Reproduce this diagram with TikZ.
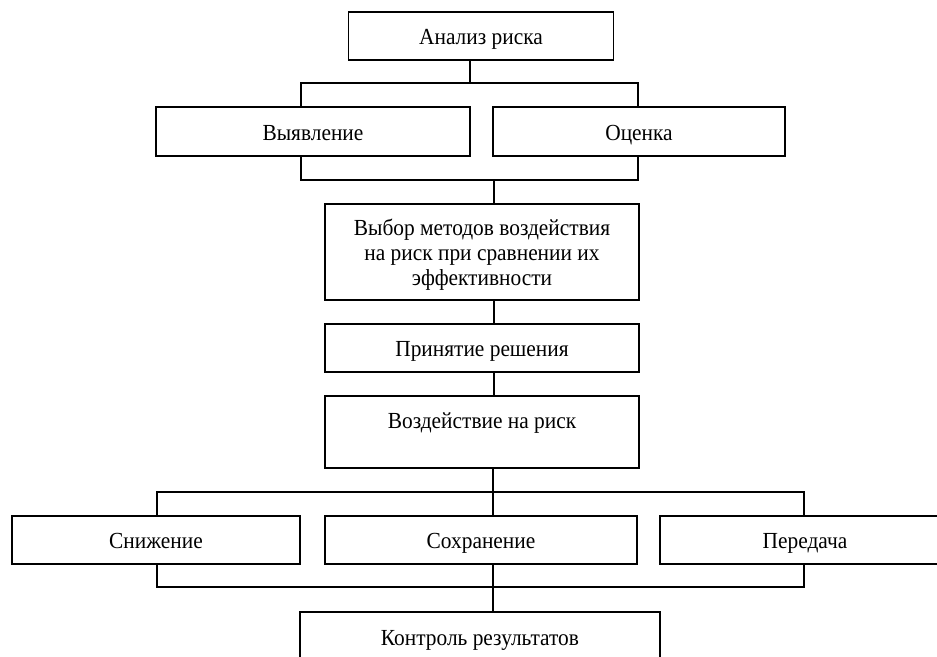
\documentclass[tikz,border=0pt]{standalone}
\usepackage{fontspec}
\setmainfont{Liberation Serif}[FakeStretch=0.93]
\begin{document}
\begin{tikzpicture}[x=1pt,y=-1pt,
  box/.style={draw,line width=1.4pt,inner sep=0pt,align=center,font=\fontsize{23}{25}\selectfont},
  one/.style={text height=21pt,text depth=4pt},
  wire/.style={line width=1.4pt}]
\useasboundingbox (0,0) rectangle (937,656);
\clip (0,0) rectangle (937,656);
\fill[white] (0,0) rectangle (937,656);
% boxes
\node[box,one,minimum width=265,minimum height=48] (anal) at (481,36) {Анализ риска};
\node[box,one,minimum width=314,minimum height=49] (vyyav) at (313,131.5) {Выявление};
\node[box,one,minimum width=292,minimum height=49] (ocenka) at (639,131.5) {Оценка};
\node[box,minimum width=314,minimum height=96] (vybor) at (482,252) {\rule{0pt}{21pt}Выбор методов воздействия\\на риск при сравнении их\\эффективности};
\node[box,one,minimum width=314,minimum height=48] (prin) at (482,348) {Принятие решения};
\node[box,text height=14pt,text depth=22pt,minimum width=314,minimum height=72] (vozd) at (482,432) {Воздействие на риск};
\node[box,one,minimum width=288,minimum height=48] (snizh) at (156,540) {Снижение};
\node[box,one,minimum width=312,minimum height=48] (sohr) at (481,540) {Сохранение};
\node[box,one,minimum width=290,minimum height=48] (pered) at (805,540) {Передача};
\node[box,text height=14pt,text depth=20pt,minimum width=360,minimum height=72] (kontrol) at (480,648) {Контроль результатов};
% junction coordinates
\coordinate (ta) at (301,83); \coordinate (tm) at (470,83); \coordinate (tb) at (638,83);
\coordinate (ba) at (301,180); \coordinate (bm) at (494,180); \coordinate (bb) at (638,180);
\coordinate (ca) at (157,492); \coordinate (cm) at (493,492); \coordinate (cb) at (804,492);
\coordinate (da) at (157,587); \coordinate (dm) at (493,587); \coordinate (db) at (804,587);
% connectors
\draw[wire] (anal.south -| tm) -- (tm);
\draw[wire] (vyyav.north -| ta) -- (ta) -- (tb) -- (ocenka.north -| tb);
\draw[wire] (vyyav.south -| ba) -- (ba) -- (bb) -- (ocenka.south -| bb);
\draw[wire] (bm) -- (vybor.north -| bm);
\draw[wire] (vybor.south -| bm) -- (prin.north -| bm);
\draw[wire] (prin.south -| bm) -- (vozd.north -| bm);
\draw[wire] (vozd.south -| cm) -- (cm);
\draw[wire] (snizh.north -| ca) -- (ca) -- (cb) -- (pered.north -| cb);
\draw[wire] (cm) -- (sohr.north -| cm);
\draw[wire] (snizh.south -| da) -- (da) -- (db) -- (pered.south -| db);
\draw[wire] (sohr.south -| dm) -- (kontrol.north -| dm);
\end{tikzpicture}
\end{document}
